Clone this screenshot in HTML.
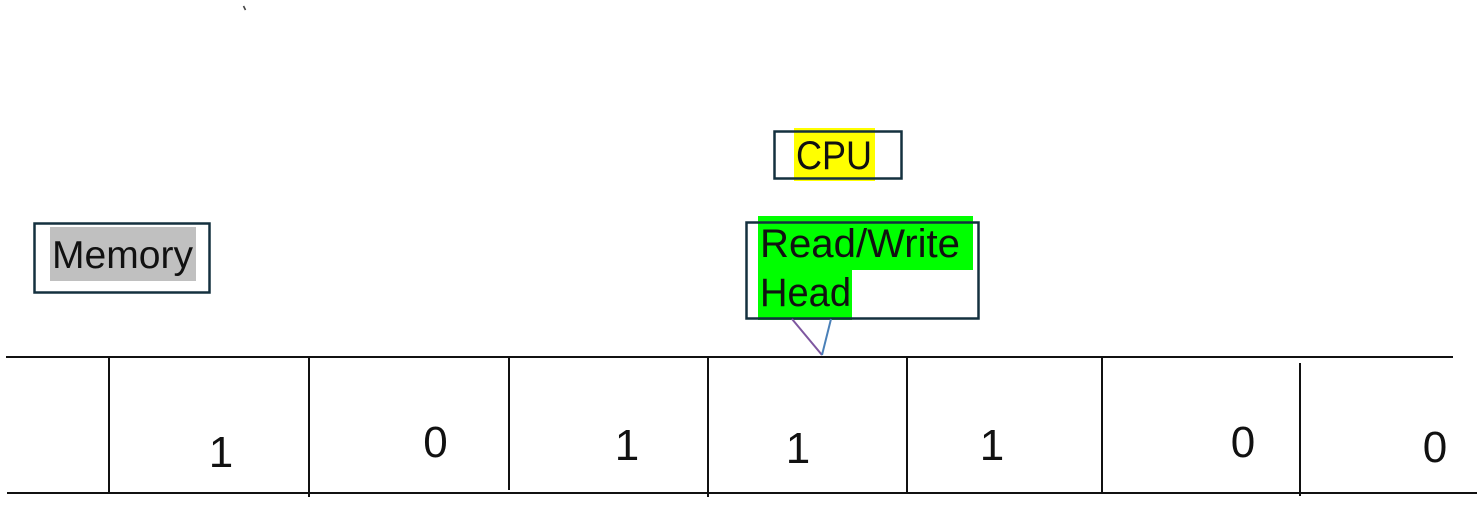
<!DOCTYPE html>
<html>
<head>
<meta charset="utf-8">
<style>
  html, body { margin: 0; padding: 0; background: #ffffff; }
  body { width: 1483px; height: 506px; overflow: hidden; }
  svg { display: block; }
  text { font-family: "Liberation Sans", "Noto Sans CJK JP", sans-serif; fill: #111; }
</style>
</head>
<body>
<svg width="1483" height="506" viewBox="0 0 1483 506" xmlns="http://www.w3.org/2000/svg">
  <rect x="0" y="0" width="1483" height="506" fill="#ffffff"/>

  <!-- stray backtick mark -->
  <line x1="243.5" y1="6" x2="245.5" y2="10" stroke="#444" stroke-width="1.6"/>

  <!-- Memory -->
  <rect x="50" y="227" width="146" height="54" fill="#c0c0c0"/>
  <rect x="34.5" y="223.5" width="175" height="69" fill="none" stroke="#14303f" stroke-width="2.5"/>
  <text x="52" y="268" font-size="39" textLength="141" lengthAdjust="spacingAndGlyphs">Memory</text>

  <!-- CPU -->
  <rect x="794" y="128" width="81" height="53" fill="#ffff00"/>
  <rect x="774.5" y="131.5" width="127" height="47" fill="none" stroke="#14303f" stroke-width="2.5"/>
  <text x="796" y="169" font-size="40" textLength="76" lengthAdjust="spacingAndGlyphs">CPU</text>

  <!-- Read/Write Head -->
  <rect x="758" y="216" width="215" height="54" fill="#00ff00"/>
  <rect x="758" y="270" width="94" height="50" fill="#00ff00"/>
  <rect x="746.5" y="222.5" width="232" height="96" fill="none" stroke="#14303f" stroke-width="2.5"/>
  <text x="760" y="257" font-size="40" textLength="200" lengthAdjust="spacingAndGlyphs">Read/Write</text>
  <text x="760" y="306" font-size="40" textLength="91" lengthAdjust="spacingAndGlyphs">Head</text>

  <!-- connector lines -->
  <line x1="792" y1="319" x2="822" y2="355" stroke="#7e57a0" stroke-width="2"/>
  <line x1="831" y1="319" x2="822" y2="355" stroke="#4a80b8" stroke-width="2"/>

  <!-- tape -->
  <g stroke="#111" stroke-width="2" fill="none">
    <line x1="6" y1="357" x2="1453" y2="357"/>
    <line x1="7" y1="493" x2="1477" y2="493"/>
    <line x1="109" y1="357" x2="109" y2="494"/>
    <line x1="309" y1="357" x2="309" y2="497"/>
    <line x1="509" y1="357" x2="509" y2="490"/>
    <line x1="708" y1="357" x2="708" y2="497"/>
    <line x1="907" y1="357" x2="907" y2="493"/>
    <line x1="1102" y1="357" x2="1102" y2="494"/>
    <line x1="1300" y1="363" x2="1300" y2="496"/>
  </g>

  <!-- digits -->
  <g font-size="44" text-anchor="middle">
    <text x="221" y="467">1</text>
    <text x="435.5" y="457">0</text>
    <text x="627" y="460">1</text>
    <text x="798" y="463">1</text>
    <text x="992" y="460">1</text>
    <text x="1243" y="457">0</text>
    <text x="1435" y="462">0</text>
  </g>
</svg>
</body>
</html>
